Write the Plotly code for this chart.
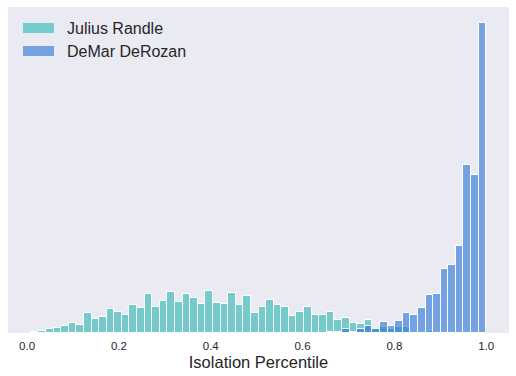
import numpy as np
import plotly.graph_objects as go

# ---- data ----
bin_lo, bin_hi, n_bins = 0.008, 1.0, 60
series_names = ["Julius Randle", "DeMar DeRozan"]
randle_counts = [1, 2, 4, 5, 7, 10, 8, 20, 14, 16,
                 24, 21, 18, 28, 25, 39, 26, 32, 41, 31,
                 39, 35, 29, 42, 30, 29, 40, 28, 37, 20,
                 26, 33, 28, 26, 17, 21, 26, 18, 18, 21,
                 13, 15, 10, 9, 13, 4, 6, 4, 6, 6,
                 1, 0, 2, 1, 1, 0, 0, 0, 0, 0]
derozan_counts = [0, 0, 0, 0, 0, 0, 0, 0, 0, 0,
                  0, 0, 0, 0, 0, 0, 0, 0, 0, 0,
                  0, 0, 0, 0, 0, 0, 0, 0, 0, 0,
                  0, 0, 0, 0, 0, 0, 0, 0, 0, 1.5,
                  1.5, 3.5, 1.5, 4.3, 7, 4, 11, 7.3, 12, 20,
                  18, 25, 38, 39, 64, 68, 87, 168, 158, 310]
tick_vals = [0.0, 0.2, 0.4, 0.6, 0.8, 1.0]
tick_text = ["0.0", "0.2", "0.4", "0.6", "0.8", "1.0"]
x_title = "Isolation Percentile"

# ---- styles ----
teal = "rgba(39,181,179,0.6)"
blue = "rgba(37,111,215,0.6)"
colors = [teal, blue]
font_family = "Liberation Sans, Arial, sans-serif"
text_col = "#262626"

edges = np.linspace(bin_lo, bin_hi, n_bins + 1)
centers = (edges[:-1] + edges[1:]) / 2
bw = edges[1] - edges[0]

fig = go.Figure()
for name, vals, col in zip(series_names, [randle_counts, derozan_counts], colors):
    fig.add_trace(go.Bar(
        x=centers, y=vals, width=bw, name=name,
        marker=dict(color=col, line=dict(color="white", width=1)),
        showlegend=False,
    ))

span = bin_hi - bin_lo
ymax = max(max(randle_counts), max(derozan_counts)) * 1.05

W, H = 516, 376
ml, mr, mt, mb = 8, 7, 7, 43
pw, ph = W - ml - mr, H - mt - mb

def px_x(p):
    return (p - ml) / pw

def px_y(p):
    return (H - mb - p) / ph

# manual legend (matplotlib-style wide patches)
shapes = []
annotations = []
for i, (name, col) in enumerate(zip(series_names, colors)):
    top = 23 + 23 * i
    shapes.append(dict(type="rect", xref="paper", yref="paper",
                       x0=px_x(23), x1=px_x(54), y0=px_y(top + 10), y1=px_y(top),
                       fillcolor=col, line=dict(width=0)))
    annotations.append(dict(xref="paper", yref="paper", x=px_x(65), y=px_y(top + 5.5),
                            xanchor="left", yanchor="middle", text=name, showarrow=False,
                            font=dict(size=16, color=text_col, family=font_family)))

fig.update_layout(
    width=W, height=H,
    margin=dict(l=ml, r=mr, t=mt, b=mb, autoexpand=False),
    paper_bgcolor="white", plot_bgcolor="#EAEAF2",
    barmode="overlay", bargap=0,
    font=dict(family=font_family, color=text_col),
    shapes=shapes, annotations=annotations,
    xaxis=dict(range=[bin_lo - 0.05 * span, bin_hi + 0.05 * span],
               tickvals=tick_vals, ticktext=tick_text,
               tickfont=dict(size=11.5, color=text_col),
               showgrid=False, zeroline=False, showline=False,
               ticks="outside", ticklen=2, tickcolor="rgba(0,0,0,0)",
               automargin=False,
               title=dict(text=x_title, font=dict(size=16.5, color=text_col), standoff=5)),
    yaxis=dict(range=[0, ymax], showticklabels=False, showgrid=False,
               zeroline=False, showline=False, ticks="", automargin=False),
)

fig.write_html("out.html",
               config={"displayModeBar": False},
               post_script="document.body.style.margin='0';document.body.style.overflow='hidden';")
